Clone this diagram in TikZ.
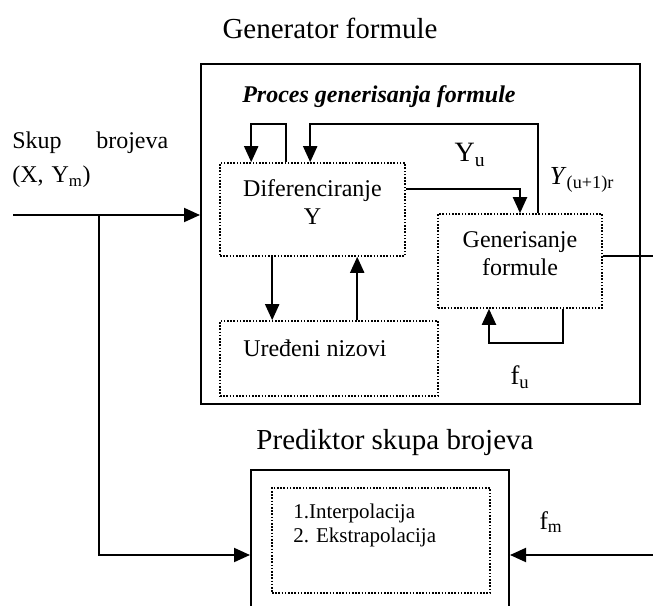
\documentclass[tikz,border=0pt]{standalone}
\usepackage{fontspec}
\setmainfont{Liberation Serif}
\usetikzlibrary{arrows.meta,calc,positioning}
\newcommand{\pxu}{0.75pt}

\begin{document}
\begin{tikzpicture}[x=0.75pt, y=-0.75pt]
    \tikzstyle{frame}=[draw=black, line width=1.5pt, inner sep=0pt]
    \tikzstyle{dotbox}=[draw=black, line width=1.2pt, dash pattern=on 1.2pt off 1.2pt, inner sep=0pt]
    \tikzstyle{arr}=[line width=1.5pt, -{Triangle[length=12pt,width=10.5pt]}]
    \tikzstyle{wire}=[line width=1.1pt]
    \tikzstyle{title}=[inner sep=0pt, font=\fontsize{21.75}{26}\selectfont]
    \tikzstyle{txt}=[inner sep=0pt, font=\fontsize{18}{21}\selectfont]
    \tikzstyle{lbl}=[inner sep=0pt, font=\fontsize{20}{24}\selectfont]

    \useasboundingbox (0,0) rectangle (653,606);
    \clip (0,0) rectangle (653,606);

    \node[title] (ttlgen) at (330,28) {Generator formule};
    \node[frame, minimum width=439*\pxu, minimum height=340*\pxu] (gen) at (420.5,234) {};
    \node[txt, anchor=west, font=\fontsize{18}{21}\selectfont\bfseries\itshape] (proc) at (242,97) {Proces generisanja formule};

    \node[dotbox, minimum width=185*\pxu, minimum height=93*\pxu] (dif) at (312.5,209.5) {};
    \node[txt, align=center] (diftxt) at (312.5,202) {Diferenciranje\\Y};

    \node[dotbox, minimum width=164*\pxu, minimum height=94*\pxu] (gb) at (520,261) {};
    \node[txt, align=center] (gbtxt) at (520,254) {Generisanje\\formule};

    \node[dotbox, minimum width=218*\pxu, minimum height=75*\pxu] (ure) at (329,358.5) {};
    \node[txt, anchor=west] (uretxt) at (243,348) {Uređeni nizovi};

    \node[lbl, font=\fontsize{21}{24}\selectfont] (lyu) at (470,155) {Y\textsubscript{u}};
    \node[lbl, font=\fontsize{19.5}{24}\selectfont] (lyr) at (582,180) {\textit{Y}\textsubscript{(u+1)r}};
    \node[lbl] (lfu) at (520,377) {f\textsubscript{u}};

    \node[txt, anchor=west, text width=156*\pxu, align=left, font=\fontsize{18}{25.5}\selectfont] (inp) at (12,160) {Skup\hfill brojeva\\(X, Y\textsubscript{m})};

    \node[title] (ttlpred) at (395,443) {Prediktor skupa brojeva};
    \node[frame, minimum width=258*\pxu, minimum height=171*\pxu] (pred) at (380,555) {};
    \node[dotbox, minimum width=218*\pxu, minimum height=105*\pxu] (predin) at (381,540.5) {};
    \node[txt, anchor=west, align=left, font=\fontsize{15.75}{18}\selectfont] (predtxt) at (293,525) {1.Interpolacija\\2. Ekstrapolacija};
    \node[lbl, font=\fontsize{19}{24}\selectfont] (lfm) at (551,522) {f\textsubscript{m}};

    \coordinate (inp0) at (13,215);
    \coordinate (br) at (99,215);
    \coordinate (outR) at (653,256);
    \coordinate (fmR) at (653,555);

    \draw[arr] (inp0) -- (inp0 -| gen.west);
    \draw[arr] (br) |- (pred.west);
    \draw[arr] ($(dif.north west)+(67,0)$) -- ++(0,-38) -| ($(dif.north west)+(32,0)$);
    \draw[arr] ($(gb.north)+(18,0)$) -- ++(0,-89) -| ($(dif.north west)+(91,0)$);
    \draw[arr] ($(dif.east)+(0,-20.5)$) -| (gb.north);
    \draw[wire] ($(gb.east)+(0,-5)$) -- (outR);
    \draw[arr] ($(gb.south)+(43,0)$) -- ++(0,34) -| ($(gb.south)+(-31,0)$);
    \draw[arr] ($(dif.south west)+(53,0)$) -- ($(ure.north west)+(53,0)$);
    \draw[arr] ($(ure.north west)+(138,0)$) -- ($(dif.south west)+(138,0)$);
    \draw[arr] (fmR) -- (pred.east);
\end{tikzpicture}
\end{document}
